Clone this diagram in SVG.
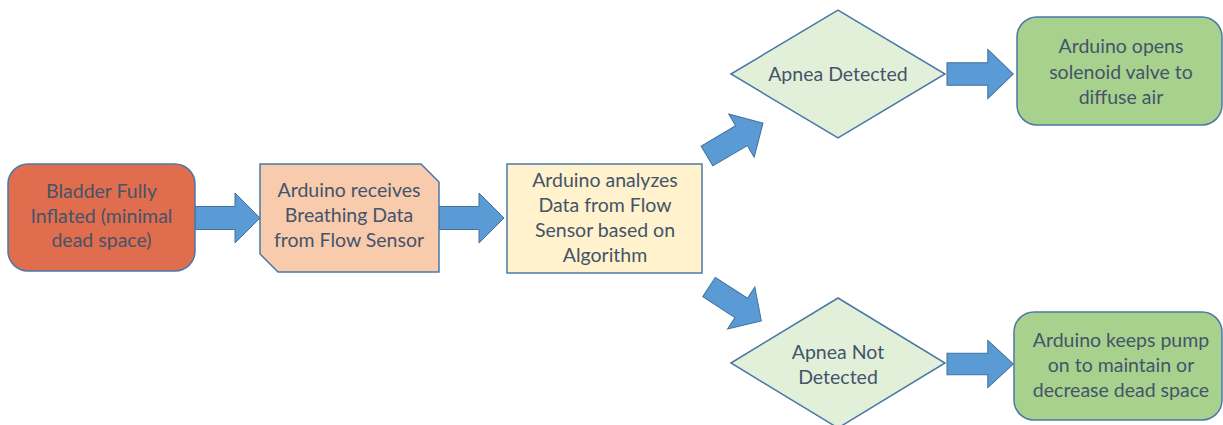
<svg xmlns="http://www.w3.org/2000/svg" width="1223" height="425" viewBox="0 0 1223 425">
<defs>
<style>
.n{stroke:#4A78A8;stroke-width:1.5}
.t{font-family:Lato,"Liberation Sans",sans-serif;font-size:19.5px;fill:#44546A;text-anchor:middle}
.a{fill:#5B9BD5;stroke:#41719C;stroke-width:1}
</style>
<path id="arr" d="M0,-11.5 L40,-11.5 L40,-25 L65,0 L40,25 L40,11.5 L0,11.5 Z"/>
</defs>
<rect width="1223" height="425" fill="#ffffff"/>
<g id="connectors">
<use href="#arr" class="a" transform="translate(195,218)"/>
<use href="#arr" class="a" transform="translate(439,218)"/>
<use href="#arr" class="a" transform="translate(707,156) rotate(-30.5)"/>
<use href="#arr" class="a" transform="translate(709,287) rotate(33) scale(0.96,1)"/>
<use href="#arr" class="a" transform="translate(947,74) scale(1.02,0.98)"/>
<use href="#arr" class="a" transform="translate(947,364) scale(1.02,0.94)"/>
</g>
<g id="n1">
<rect class="n" x="8" y="164" width="187" height="107" rx="20" fill="#E06D4D"/>
<text class="t" x="101.5" y="198">Bladder Fully</text>
<text class="t" x="101.5" y="223">Inflated (minimal</text>
<text class="t" x="101.5" y="247">dead space)</text>
</g>
<g id="n2">
<path class="n" d="M260,164 L421,164 L439,182 L439,272 L278,272 L260,254 Z" fill="#F8CBAD"/>
<text class="t" x="349" y="197">Arduino receives</text>
<text class="t" x="349" y="222">Breathing Data</text>
<text class="t" x="349" y="247">from Flow Sensor</text>
</g>
<g id="n3">
<rect class="n" x="507" y="164" width="195" height="109" fill="#FFF2CC"/>
<text class="t" x="605" y="187">Arduino analyzes</text>
<text class="t" x="605" y="212">Data from Flow</text>
<text class="t" x="605" y="237">Sensor based on</text>
<text class="t" x="605" y="262">Algorithm</text>
</g>
<g id="d1">
<path class="n" d="M731,74 L838,10 L945,74 L838,138 Z" fill="#E2F0D9"/>
<text class="t" x="838" y="81">Apnea Detected</text>
</g>
<g id="n5">
<rect class="n" x="1017" y="17" width="205" height="108" rx="20" fill="#A9D18E"/>
<text class="t" x="1121" y="53">Arduino opens</text>
<text class="t" x="1121" y="79">solenoid valve to</text>
<text class="t" x="1121" y="104">diffuse air</text>
</g>
<g id="d2">
<path class="n" d="M731,363 L838,298 L945,363 L838,428 Z" fill="#E2F0D9"/>
<text class="t" x="838" y="359">Apnea Not</text>
<text class="t" x="838" y="384">Detected</text>
</g>
<g id="n6">
<rect class="n" x="1014" y="312" width="208" height="108" rx="20" fill="#A9D18E"/>
<text class="t" x="1121" y="347">Arduino keeps pump</text>
<text class="t" x="1121" y="372">on to maintain or</text>
<text class="t" x="1121" y="397">decrease dead space</text>
</g>
</svg>
